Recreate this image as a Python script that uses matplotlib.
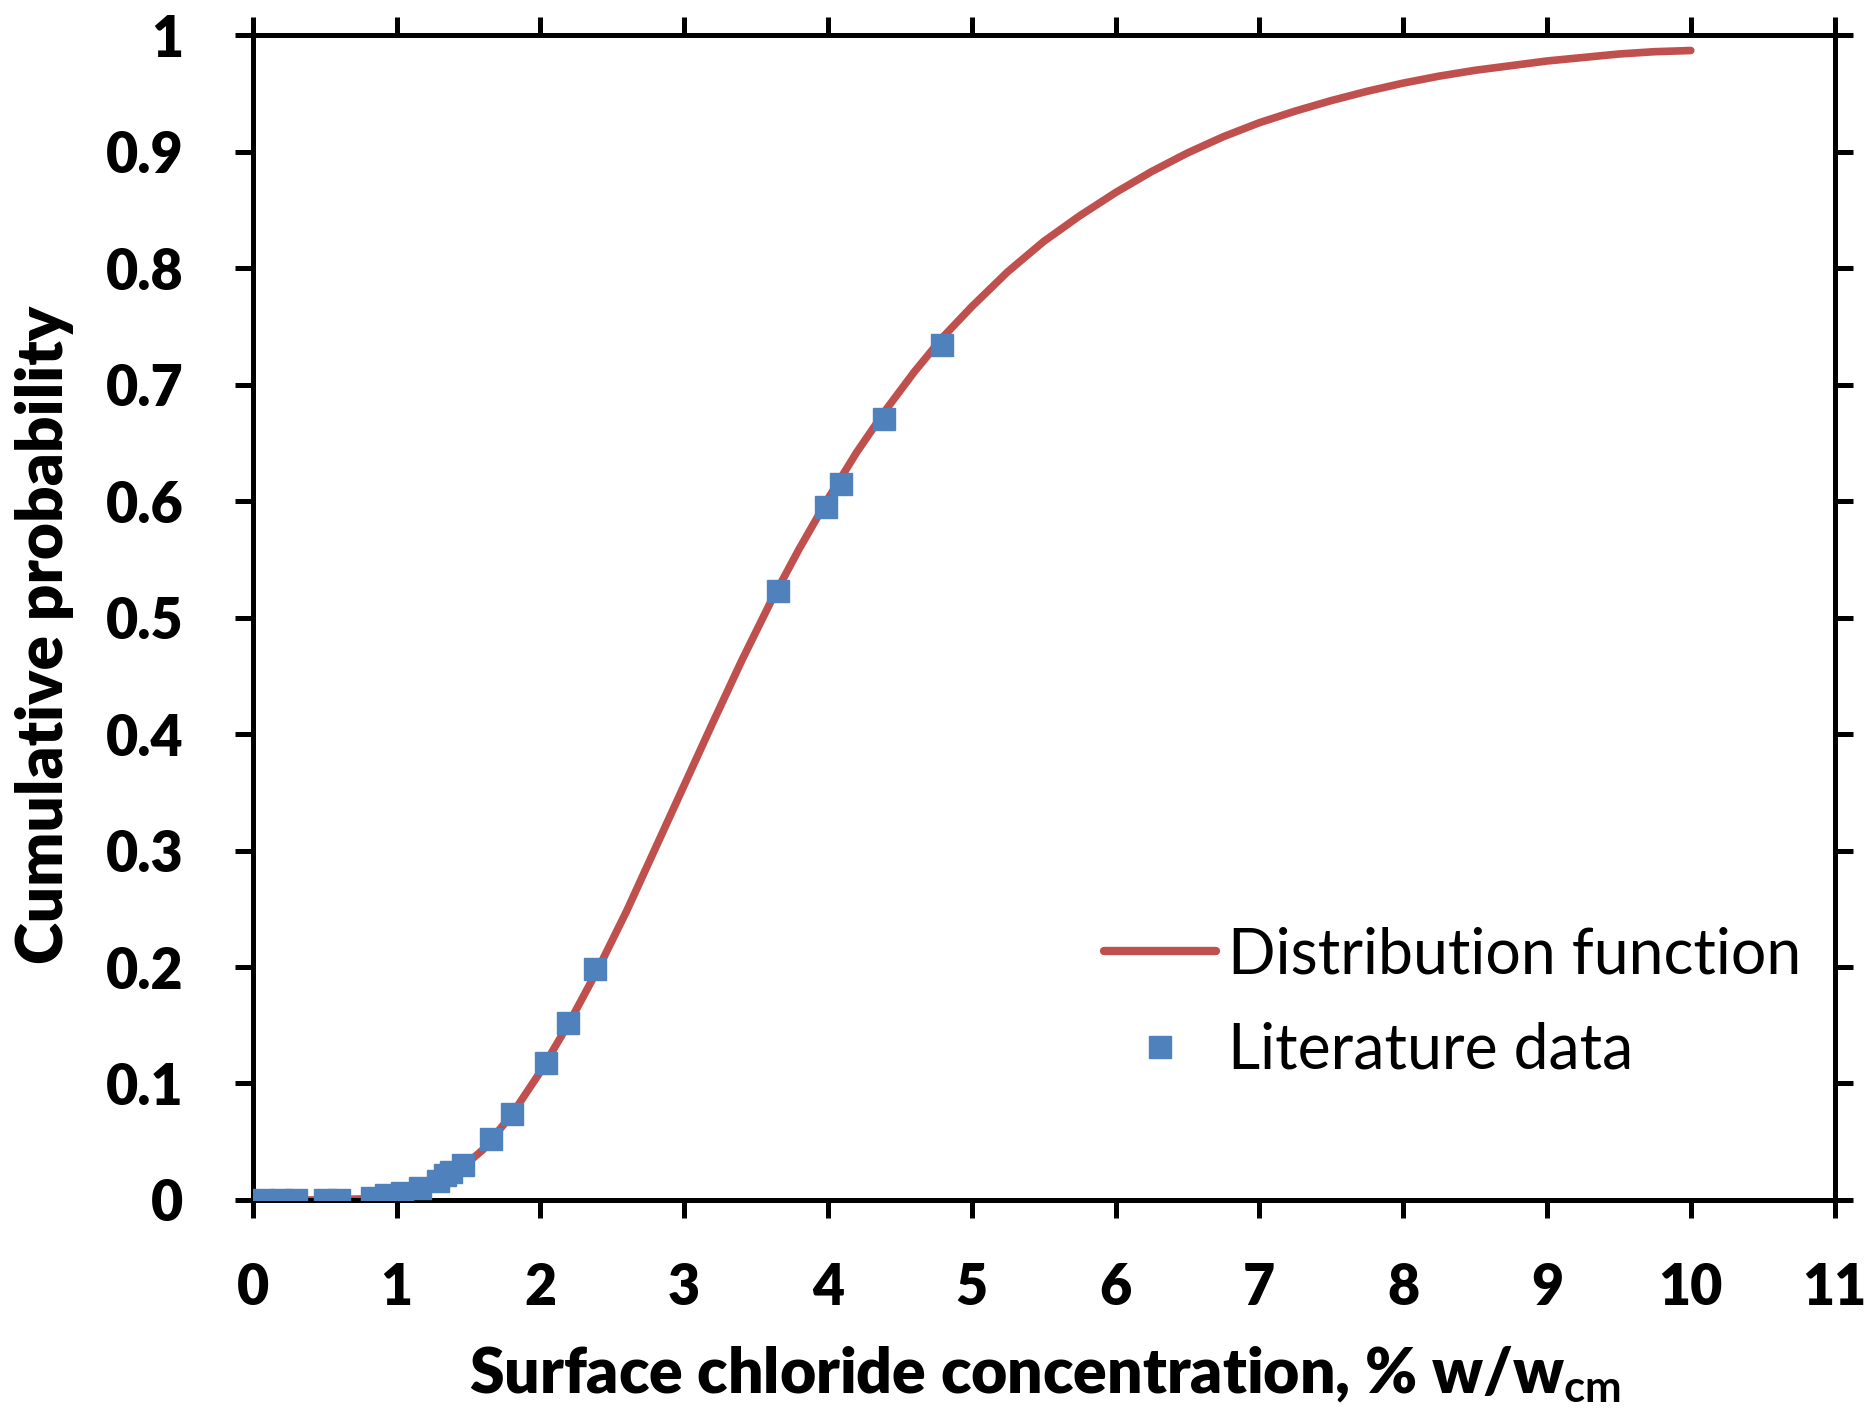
import matplotlib
matplotlib.use("Agg")
import matplotlib.pyplot as plt

plt.rcParams['font.family'] = ['Lato', 'DejaVu Sans']
plt.rcParams['mathtext.fontset'] = 'custom'
plt.rcParams['mathtext.rm'] = 'Lato:bold'
plt.rcParams['mathtext.default'] = 'rm'

# distribution function
curve_x = [0.1, 0.5, 0.8, 1.0, 1.2, 1.4, 1.6, 1.8, 2.0, 2.2, 2.4, 2.6, 2.8,
           3.0, 3.2, 3.4, 3.6, 3.8, 4.0, 4.2, 4.4, 4.6, 4.8, 5.0, 5.25, 5.5,
           5.75, 6.0, 6.25, 6.5, 6.75, 7.0, 7.25, 7.5, 7.75, 8.0, 8.25, 8.5,
           8.75, 9.0, 9.25, 9.5, 9.75, 10.0]
curve_y = [0.0, 0.0, 0.001, 0.004, 0.010, 0.022, 0.043, 0.073, 0.110, 0.152,
           0.198, 0.248, 0.302, 0.356, 0.410, 0.463, 0.513, 0.559, 0.602,
           0.642, 0.678, 0.711, 0.741, 0.767, 0.797, 0.823, 0.845, 0.865,
           0.883, 0.899, 0.913, 0.925, 0.935, 0.944, 0.952, 0.959, 0.965,
           0.970, 0.974, 0.978, 0.981, 0.984, 0.986, 0.987]

# literature data points
data_x = [0.07, 0.2, 0.3, 0.5, 0.6, 0.83, 0.93, 1.04, 1.16, 1.29, 1.34, 1.38,
          1.46, 1.66, 1.80, 2.04, 2.19, 2.38, 3.65, 3.99, 4.09, 4.39, 4.79]
data_y = [0.0, 0.0, 0.0, 0.0, 0.0, 0.002, 0.004, 0.006, 0.010, 0.016, 0.021,
          0.024, 0.030, 0.052, 0.074, 0.118, 0.152, 0.198, 0.523, 0.595,
          0.615, 0.671, 0.734]

x_ticks = list(range(0, 12))
y_ticks = [0, 0.1, 0.2, 0.3, 0.4, 0.5, 0.6, 0.7, 0.8, 0.9, 1]
y_labels = ['0', '0.1', '0.2', '0.3', '0.4', '0.5', '0.6', '0.7', '0.8', '0.9', '1']

fig = plt.figure(figsize=(18.72, 14.15), dpi=100)
ax = fig.add_axes([0.135, 0.152, 0.845, 0.823])

ax.plot(curve_x, curve_y, color='#C0504D', linewidth=5.5,
        solid_capstyle='round', label='Distribution function', zorder=2)
ax.plot(data_x, data_y, linestyle='none', marker='s', markersize=16,
        color='#4F81BD', markeredgecolor='#4F81BD', label='Literature data',
        zorder=3)

ax.set_xlim(0, 11)
ax.set_ylim(0, 1)
ax.set_xticks(x_ticks)
ax.set_yticks(y_ticks)
ax.set_yticklabels(y_labels)

ax.tick_params(direction='out', length=13, width=3.6, labelsize=40,
               top=True, right=True)
ax.tick_params(axis='x', pad=32)
ax.tick_params(axis='y', pad=37)
for lab in ax.get_xticklabels() + ax.get_yticklabels():
    lab.set_fontweight('heavy')
for sp in ax.spines.values():
    sp.set_linewidth(3.6)

ax.set_xlabel('Surface chloride concentration, % w/w$_{cm}$',
              fontsize=45, fontweight='heavy')
ax.set_ylabel('Cumulative probability', fontsize=46, fontweight='heavy')
ax.xaxis.set_label_coords(0.501, -0.124)
ax.yaxis.set_label_coords(-0.113, 0.485)

leg = ax.legend(loc='upper left', bbox_to_anchor=(0.538, 0.235),
                frameon=False, fontsize=45, handlelength=1.8,
                handletextpad=0.19, labelspacing=0.6, borderpad=0,
                borderaxespad=0)
for line in leg.get_lines():
    line.set_linewidth(6)

fig.savefig('out.png', dpi=100)
